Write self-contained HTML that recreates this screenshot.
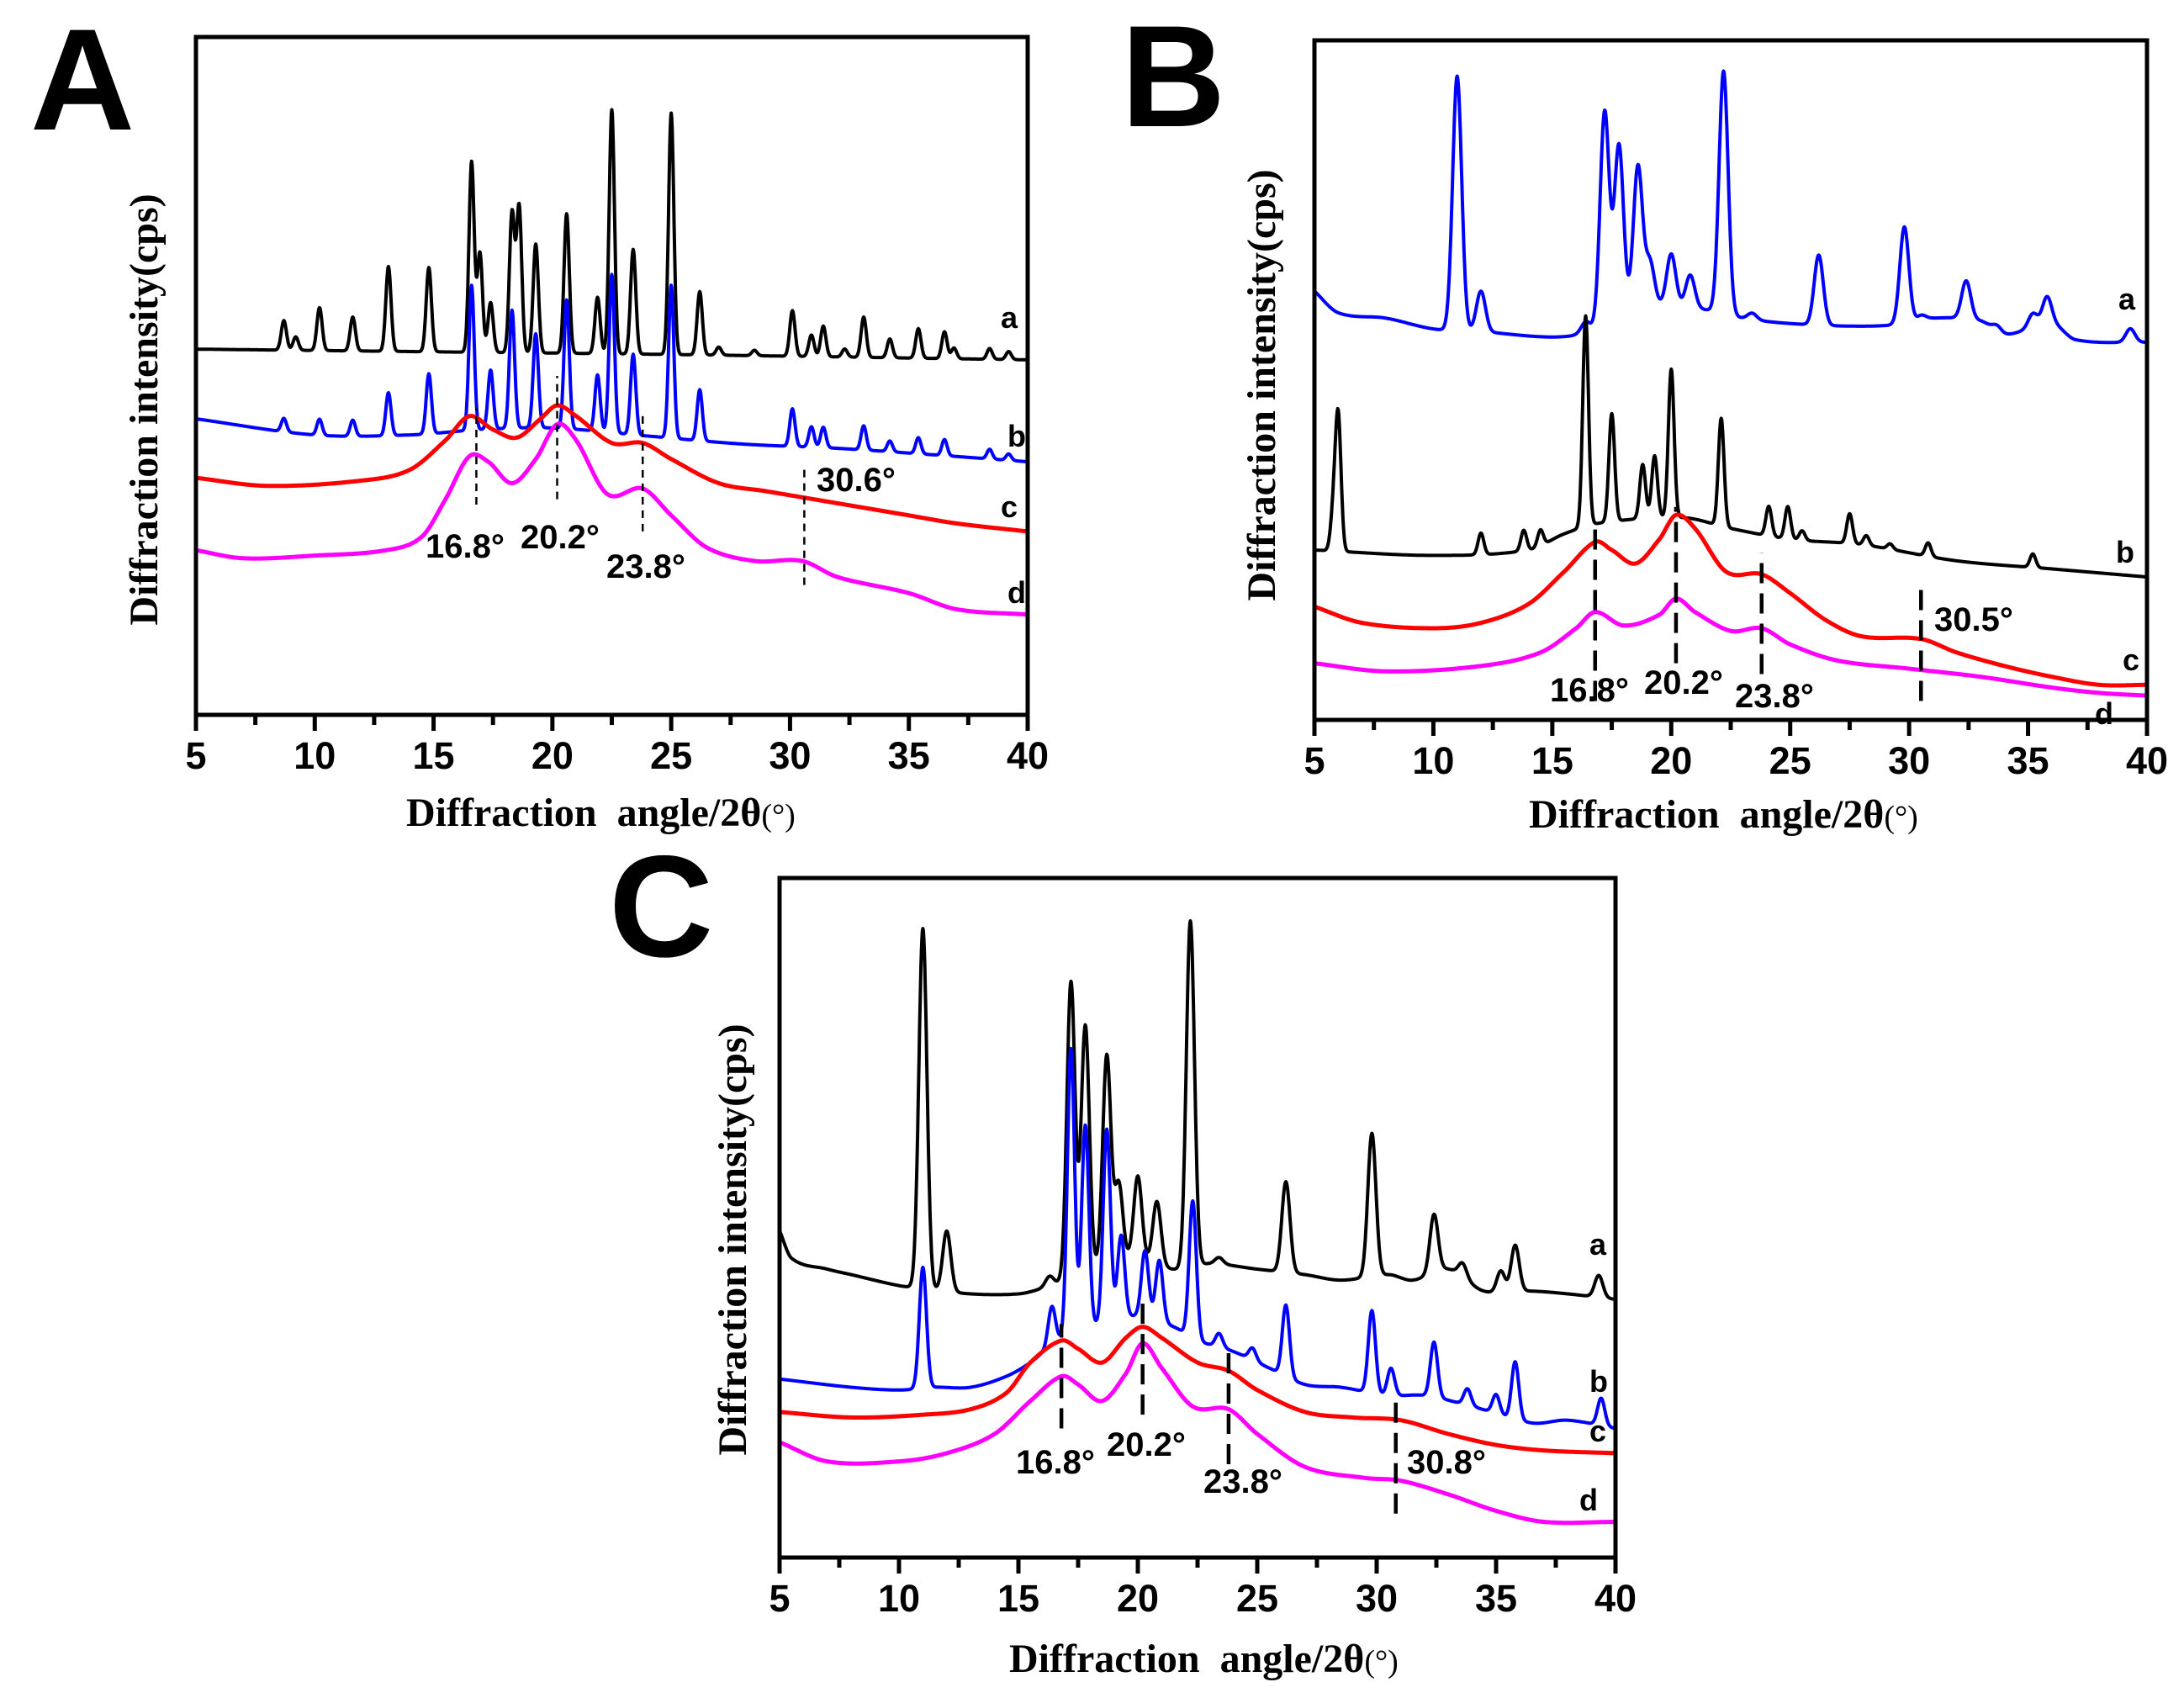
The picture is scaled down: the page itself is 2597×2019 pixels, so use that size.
<!DOCTYPE html>
<html><head><meta charset="utf-8"><style>
html,body{margin:0;padding:0;background:#fff;}
svg{display:block;}
.tick{font-family:"Liberation Sans",Arial,sans-serif;font-weight:bold;font-size:45px;}
.ttl{font-family:"Liberation Serif","Times New Roman",serif;font-weight:bold;font-size:48px;}
.pl{font-family:"Liberation Sans",Arial,sans-serif;font-weight:bold;font-size:172px;}
.ann{font-family:"Liberation Sans",Arial,sans-serif;font-weight:bold;font-size:40px;}
.lab{font-family:"Liberation Sans",Arial,sans-serif;font-weight:bold;font-size:36px;}
</style></head><body>
<svg id="fig" width="2597" height="2019" viewBox="0 0 2597 2019" xmlns="http://www.w3.org/2000/svg"></svg>
<script>
// ---------- data (2θ in degrees, intensity in arbitrary cps units) ----------
const xTicks = [5,10,15,20,25,30,35,40];
// Panel A
const A_a_base = [[5,682],[15,677],[25,672],[40,662]];
const A_a_peaks = [[8.7,55],[9.2,25],[10.2,80],[11.6,63],[13.1,158],[14.8,157],[16.6,355],[16.95,185],[17.4,93],[18.3,260],[18.6,272],[19.3,203],[20.6,260],[21.9,105],[22.5,455],[23.4,195],[25.0,450],[26.2,118],[27.0,15],[28.5,10],[30.1,85],[30.9,40],[31.4,57],[32.3,15],[33.1,75],[34.2,35],[35.4,55],[36.5,50],[36.9,20],[38.4,20],[39.2,15]];
const A_b_base = [[5,552],[10,522],[14,522],[17,532],[20,535],[24,520],[28,505],[32,497],[36,485],[40,472]];
const A_b_peaks = [[8.7,25],[10.2,30],[11.6,30],[13.1,80],[14.8,112],[16.6,270],[17.4,110],[18.3,220],[19.3,175],[20.6,240],[21.9,105],[22.5,295],[23.4,150],[25.0,285],[26.2,95],[30.1,70],[30.9,38],[31.4,38],[33.1,45],[34.2,20],[35.4,30],[36.5,30],[38.4,18],[39.2,12]];
const A_c_base = [[5,442],[8,427],[12,437],[14,457],[15.5,512],[16.5,557],[17.5,532],[18.5,517],[19.5,552],[20.2,577],[21,557],[22.5,507],[23.8,507],[25,477],[27,432],[29,417],[31,402],[33,387],[35,372],[37,357],[40,342]];
const A_d_base = [[5,307],[7,292],[10,297],[13,307],[14.5,332],[15.5,402],[16.5,482],[17.3,472],[18.3,432],[19.3,477],[20.2,542],[21,512],[22.3,412],[23.8,422],[25,372],[26.5,312],[28.5,287],[30.5,287],[32,257],[35,227],[37,197],[40,187]];
const A_marks = [[16.8,392,572],[20.2,402,632],[23.8,342,557],[30.6,242,462]];
// Panel B
const B_a_base = [[5,795],[6,755],[8,745],[10,725],[12,720],[15,710],[16.5,720],[18,760],[19.5,770],[21.5,760],[23,745],[25,735],[28,730],[30,735],[31,745],[33,740],[34,715],[36,735],[37,705],[40,700]];
const B_a_peaks = [[11.0,472],[12.0,75],[16.4,20],[17.2,390],[17.8,310],[18.6,260],[19.1,80],[20.0,95],[20.8,60],[22.2,450],[23.4,12],[26.2,130],[29.8,180],[30.5,10],[32.4,70],[33.7,12],[35.2,25],[35.8,50],[39.3,25]];
const B_b_base = [[5,315],[10,305],[14,315],[15.5,345],[17,365],[20.5,375],[22.5,355],[25,335],[28,325],[32,295],[36,280],[40,265]];
const B_b_peaks = [[5.8,70],[6.0,245],[12.0,40],[13.8,38],[14.5,30],[16.4,390],[17.5,200],[18.8,100],[19.3,115],[20.0,275],[22.1,200],[24.1,55],[24.9,60],[25.5,18],[27.5,55],[28.2,18],[29.2,10],[30.8,25],[35.2,25]];
const B_c_base = [[5,210],[7,180],[10,170],[12,180],[14,215],[15.5,275],[16.8,330],[17.5,315],[18.5,290],[19.5,335],[20.2,380],[21,355],[22.3,275],[23.8,270],[25,235],[26.5,185],[28,155],[30.5,150],[32,125],[34,100],[36,80],[38,65],[40,65]];
const B_d_base = [[5,105],[8,90],[12,100],[14.5,125],[16,170],[16.8,200],[18,175],[19.5,195],[20.2,225],[21,200],[22.5,165],[23.8,170],[25,140],[27,110],[30,95],[33,80],[36,60],[38,50],[40,45]];
const B_marks = [[16.8,35,355],[20.2,105,395],[23.8,85,310],[30.5,35,255]];
// Panel C
const C_a_base = [[5,595],[5.5,545],[7,525],[8,515],[10,495],[11,490],[13,480],[15,480],[16,490],[17,505],[19.7,545],[21.5,525],[23,535],[25,525],[27,515],[28.5,505],[30.5,515],[31.5,505],[33,525],[34.5,485],[36.5,485],[38,480],[40,470]];
const C_a_peaks = [[11.0,655],[12.0,110],[16.3,18],[17.2,540],[17.8,450],[18.7,380],[19.2,140],[20.0,150],[20.8,115],[22.2,630],[23.4,12],[26.2,165],[29.8,260],[32.4,105],[33.6,25],[35.2,40],[35.8,85],[39.3,40]];
const C_b_base = [[5,325],[8,310],[10,305],[11.5,310],[13,310],[14.5,330],[15.5,355],[16.5,390],[18,420],[20,440],[21.5,420],[22.5,395],[24,375],[25.5,345],[27,315],[28.5,310],[30.5,295],[32,295],[34,275],[36.5,245],[38,250],[40,235]];
const C_b_peaks = [[11.0,220],[16.4,70],[17.2,520],[17.8,370],[18.7,350],[19.3,150],[20.3,120],[20.9,110],[22.3,250],[23.4,25],[24.8,22],[26.2,130],[29.8,150],[30.6,50],[32.4,100],[33.8,30],[35.0,35],[35.8,105],[39.4,50]];
const C_c_base = [[5,265],[8,255],[11,260],[13,270],[14.5,300],[15.5,355],[16.8,395],[17.5,380],[18.5,355],[19.5,400],[20.2,420],[21,400],[22.5,355],[23.8,340],[25,305],[27,265],[29,255],[31,250],[33,225],[35,205],[37,195],[40,190]];
const C_d_base = [[5,210],[7,175],[10,175],[12,190],[14,225],[15.5,285],[16.8,330],[17.5,315],[18.5,285],[19.5,335],[20.2,390],[21,345],[22.3,275],[23.8,270],[25,225],[27,165],[29.5,145],[31,140],[33,115],[35,85],[37,65],[40,65]];
const C_marks = [[16.8,235,425],[20.2,260,475],[23.8,170,380],[30.8,80,290]];

// ---------- drawing ----------
const NS = 'http://www.w3.org/2000/svg';
const svg = document.getElementById('fig');
function mk(tag, attrs, parent){
  const e = document.createElementNS(NS, tag);
  for (const k in attrs) e.setAttribute(k, attrs[k]);
  (parent||svg).appendChild(e);
  return e;
}
function interp(pts, x){
  const n = pts.length;
  if (x <= pts[0][0]) return pts[0][1];
  if (x >= pts[n-1][0]) return pts[n-1][1];
  let i = 1;
  while (pts[i][0] < x) i++;
  const p1 = pts[i-1], p2 = pts[i];
  const p0 = pts[Math.max(0,i-2)], p3 = pts[Math.min(n-1,i+1)];
  const h = p2[0]-p1[0];
  const t = (x-p1[0])/h;
  const m1 = (p2[1]-p0[1])/(p2[0]-p0[0]||1)*h;
  const m2 = (p3[1]-p1[1])/(p3[0]-p1[0]||1)*h;
  const t2=t*t, t3=t2*t;
  return (2*t3-3*t2+1)*p1[1] + (t3-2*t2+t)*m1 + (-2*t3+3*t2)*p2[1] + (t3-t2)*m2;
}
function evalSeries(base, peaks, sig, x){
  let v = interp(base, x);
  if (peaks) for (const p of peaks){ const d=(x-p[0])/sig; if (Math.abs(d)<6) v += p[1]*Math.exp(-0.5*d*d); }
  return v;
}
function panel(cfg){
  const g = mk('g', {});
  
  
  const X = v => cfg.x0 + (v-5)/35*(cfg.x1-cfg.x0);
  const Y = v => cfg.y1 - v/cfg.D*(cfg.y1-cfg.y0);
  cfg.series.forEach(s=>{
    let d='';
    for (let x=5; x<=40.0001; x+=0.02){
      const v = evalSeries(s.base, s.peaks, s.sig, x);
      d += (d?'L':'M') + X(x).toFixed(1)+' '+Y(v).toFixed(1);
    }
    const p = mk('path', {d:d, fill:'none', stroke:s.color, 'stroke-width':s.w, 'stroke-linejoin':'round'}, g);
    
    
  });
  cfg.marks.forEach(m=>{
    const l = mk('line', {x1:X(m[0]), x2:X(m[0]), y1:Y(m[1]), y2:Y(m[2]), stroke:'#000', 'stroke-width':cfg.dashW, 'stroke-dasharray':cfg.dash}, g);
    
    
  });
  const fr = mk('rect', {x:cfg.x0, y:cfg.y0, width:cfg.x1-cfg.x0, height:cfg.y1-cfg.y0, fill:'none', stroke:'#000', 'stroke-width':5}, g);
  
  
  for (let t=5; t<=40; t+=2.5){
    const major = (t%5===0);
    const tk = mk('line', {x1:X(t), x2:X(t), y1:cfg.y1, y2:cfg.y1+(major?19:12), stroke:'#000', 'stroke-width':5}, g);
    
    
  }
  xTicks.forEach(t=>{
    const tx = mk('text', {x:X(t), y:cfg.y1+64, 'text-anchor':'middle', class:'tick'}, g);
    tx.textContent = String(t);
    
    
  });
}
const panels = [
 {name:'panel-a', x0:233, x1:1222, y0:44, y1:850, D:1264, dash:'9 7', dashW:2.5,
  series:[{id:'series-a',base:A_a_base,peaks:A_a_peaks,sig:0.11,color:'#000',w:4},
          {id:'series-b',base:A_b_base,peaks:A_b_peaks,sig:0.11,color:'#0000ff',w:4},
          {id:'series-c',base:A_c_base,peaks:null,sig:1,color:'#ff0000',w:5},
          {id:'series-d',base:A_d_base,peaks:null,sig:1,color:'#ff00ff',w:5}], marks:A_marks},
 {name:'panel-b', x0:1563, x1:2553, y0:48, y1:856, D:1260, dash:'24 12', dashW:4.5,
  series:[{id:'series-a',base:B_a_base,peaks:B_a_peaks,sig:0.19,color:'#0000ff',w:4},
          {id:'series-b',base:B_b_base,peaks:B_b_peaks,sig:0.12,color:'#000',w:4},
          {id:'series-c',base:B_c_base,peaks:null,sig:1,color:'#ff0000',w:5},
          {id:'series-d',base:B_d_base,peaks:null,sig:1,color:'#ff00ff',w:5}], marks:B_marks},
 {name:'panel-c', x0:927, x1:1921, y0:1044, y1:1852, D:1237, dash:'24 12', dashW:4.5,
  series:[{id:'series-a',base:C_a_base,peaks:C_a_peaks,sig:0.17,color:'#000',w:4},
          {id:'series-b',base:C_b_base,peaks:C_b_peaks,sig:0.15,color:'#0000ff',w:4},
          {id:'series-c',base:C_c_base,peaks:null,sig:1,color:'#ff0000',w:5},
          {id:'series-d',base:C_d_base,peaks:null,sig:1,color:'#ff00ff',w:5}], marks:C_marks}
];
panels.forEach(panel);
</script>
<svg style="position:absolute;left:0;top:0" width="2597" height="2019">
  <text class="pl" x="36" y="154">A</text>
  <text class="pl" x="1333" y="150">B</text>
  <text class="pl" x="724" y="1137">C</text>

  <text class="ttl" x="171" y="487" text-anchor="middle" transform="rotate(-90 171 487)" dy="16">Diffraction intensity(cps)</text>
  <text class="ttl" x="1500" y="458" text-anchor="middle" transform="rotate(-90 1500 458)" dy="16">Diffraction intensity(cps)</text>
  <text class="ttl" x="871" y="1474" text-anchor="middle" transform="rotate(-90 871 1474)" dy="16">Diffraction intensity(cps)</text>

  <text class="ttl" x="483" y="982">Diffraction&#160;&#160;angle/2θ<tspan font-weight="normal" font-size="38">(°)</tspan></text>
  <text class="ttl" x="1818" y="984">Diffraction&#160;&#160;angle/2θ<tspan font-weight="normal" font-size="38">(°)</tspan></text>
  <text class="ttl" x="1200" y="1988">Diffraction&#160;&#160;angle/2θ<tspan font-weight="normal" font-size="38">(°)</tspan></text>

  <g class="ann">
    <text x="506" y="663">16.8°</text>
    <text x="619" y="652">20.2°</text>
    <text x="721" y="687">23.8°</text>
    <text x="971" y="584">30.6°</text>
  </g>
  <g class="ann">
    <text x="1843" y="834">16.8°</text>
    <text x="1955" y="825">20.2°</text>
    <text x="2063" y="841">23.8°</text>
    <text x="2300" y="750">30.5°</text>
  </g>
  <g class="ann">
    <text x="1208" y="1752">16.8°</text>
    <text x="1316" y="1731">20.2°</text>
    <text x="1431" y="1775">23.8°</text>
    <text x="1673" y="1752">30.8°</text>
  </g>
  <g class="lab">
    <text x="1190" y="390">a</text>
    <text x="1198" y="531">b</text>
    <text x="1190" y="615">c</text>
    <text x="1198" y="717">d</text>
    <text x="2519" y="368">a</text>
    <text x="2516" y="669">b</text>
    <text x="2524" y="797">c</text>
    <text x="2491" y="861">d</text>
    <text x="1890" y="1492">a</text>
    <text x="1890" y="1655">b</text>
    <text x="1890" y="1714">c</text>
    <text x="1878" y="1796">d</text>
  </g>
</svg>
</body></html>
